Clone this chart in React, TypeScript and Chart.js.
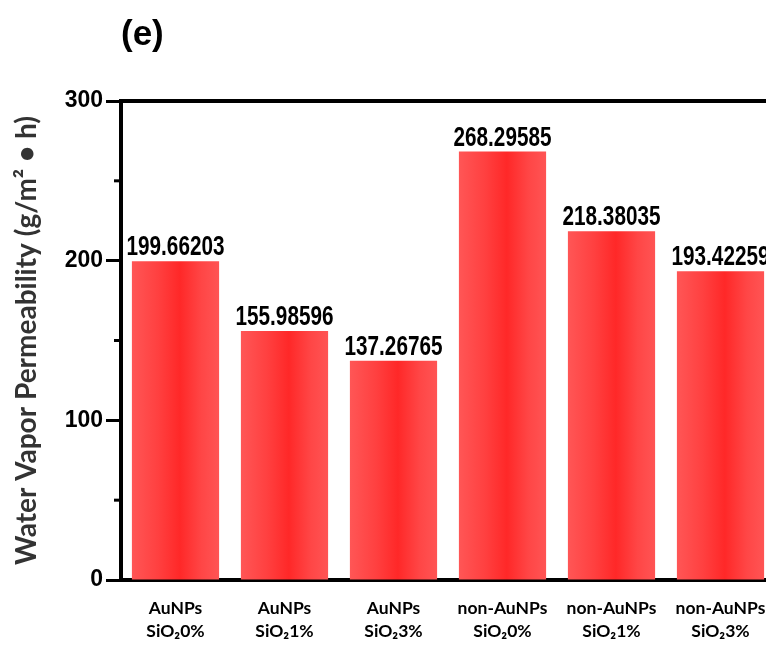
import { useEffect, useRef } from 'react';
import { Chart, registerables } from 'chart.js';

Chart.register(...registerables);

// Sample groups (two-line tick labels)
const categories: string[][] = [
  ['AuNPs', 'SiO₂0%'],
  ['AuNPs', 'SiO₂1%'],
  ['AuNPs', 'SiO₂3%'],
  ['non-AuNPs', 'SiO₂0%'],
  ['non-AuNPs', 'SiO₂1%'],
  ['non-AuNPs', 'SiO₂3%'],
];

// Water vapor permeability, g/(m²·h)
const permeability: number[] = [199.66203, 155.98596, 137.26765, 268.29585, 218.38035, 193.42259];

const yMax = 300;
const yStep = 100;
const minorTicks: number[] = [50, 150, 250];
const panelLabel = '(e)';
const yTitle = 'Water Vapor Permeability (g/m² • h)';

const BAR_FRACTION = 0.8;
const HUMANIST = 'Lato, "Open Sans", sans-serif';

// Bold condensed value labels above each bar
const valueLabels = {
  id: 'valueLabels',
  afterDatasetsDraw(chart: any) {
    const ctx = chart.ctx;
    const meta = chart.getDatasetMeta(0);
    ctx.save();
    ctx.fillStyle = '#000';
    ctx.font = 'bold 28px "Liberation Sans", Arial, sans-serif';
    ctx.textAlign = 'center';
    ctx.textBaseline = 'alphabetic';
    meta.data.forEach((bar: any, i: number) => {
      const txt = permeability[i].toFixed(5);
      ctx.save();
      ctx.translate(bar.x, bar.y - 6);
      ctx.scale(0.74, 1);
      ctx.fillText(txt, 0, 0);
      ctx.restore();
    });
    ctx.restore();
  },
};

// Short minor ticks and the panel letter
const decorations = {
  id: 'decorations',
  afterDraw(chart: any) {
    const ctx = chart.ctx;
    const y = chart.scales.y;
    const left = chart.chartArea.left;
    ctx.save();
    ctx.strokeStyle = '#000';
    ctx.lineWidth = 3;
    minorTicks.forEach((v) => {
      const py = y.getPixelForValue(v);
      ctx.beginPath();
      ctx.moveTo(left - 7, py);
      ctx.lineTo(left, py);
      ctx.stroke();
    });
    ctx.fillStyle = '#000';
    ctx.font = 'bold 35px "Liberation Sans", Arial, sans-serif';
    ctx.textAlign = 'left';
    ctx.textBaseline = 'alphabetic';
    ctx.fillText(panelLabel, 121, 45);
    ctx.restore();
  },
};

function barFill(c: any) {
  const chart = c.chart;
  const xs = chart.scales?.x;
  if (!xs || c.type !== 'data' || !isFinite(xs.width)) return '#ff3a3a';
  const center = xs.getPixelForValue(c.dataIndex);
  const w = (xs.width / categories.length) * BAR_FRACTION;
  const g = chart.ctx.createLinearGradient(center - w / 2, 0, center + w / 2, 0);
  g.addColorStop(0, '#ff5656');
  g.addColorStop(0.3, '#ff4040');
  g.addColorStop(0.55, '#ff2828');
  g.addColorStop(0.8, '#ff4646');
  g.addColorStop(1, '#ff5454');
  return g;
}

export default function App() {
  const canvasRef = useRef<HTMLCanvasElement | null>(null);

  useEffect(() => {
    if (!canvasRef.current) return;
    const chart = new Chart(canvasRef.current, {
      type: 'bar',
      data: {
        labels: categories,
        datasets: [
          {
            data: permeability,
            backgroundColor: barFill,
            borderWidth: 0,
            categoryPercentage: 1,
            barPercentage: BAR_FRACTION,
          },
        ],
      },
      options: {
        responsive: false,
        animation: false,
        layout: { padding: { top: 101, right: 15, bottom: 0, left: 0 } },
        plugins: { legend: { display: false }, tooltip: { enabled: false }, title: { display: false } },
        scales: {
          x: {
            position: 'bottom',
            grid: { display: false, drawTicks: false },
            border: { display: true, color: '#000', width: 4 },
            ticks: {
              color: '#000',
              padding: 17,
              maxRotation: 0,
              autoSkip: false,
              font: { family: HUMANIST, size: 17.5, weight: 'bold', lineHeight: 1.3 },
            },
            afterFit: (s: any) => { s.height = 68; },
          },
          x2: {
            position: 'top',
            grid: { display: false, drawTicks: false },
            border: { display: true, color: '#000', width: 4 },
            ticks: { display: false },
            afterFit: (s: any) => { s.height = 0; },
          },
          y: {
            position: 'left',
            min: 0,
            max: yMax,
            ticks: {
              stepSize: yStep,
              color: '#000',
              padding: 3,
              font: { family: '"Liberation Sans", Arial, sans-serif', size: 23, weight: 'bold' },
            },
            grid: { display: true, drawOnChartArea: false, tickLength: 15, tickWidth: 3, tickColor: '#000' },
            border: { display: true, color: '#000', width: 4 },
            title: {
              display: true,
              text: yTitle,
              color: '#333',
              padding: { top: 10, bottom: 0 },
              font: { family: HUMANIST, size: 28, weight: 'bold' },
            },
            afterFit: (s: any) => { s.width = 121; },
          },
          y2: {
            position: 'right',
            min: 0,
            max: yMax,
            grid: { display: false, drawTicks: false },
            border: { display: true, color: '#000', width: 4 },
            ticks: { display: false },
            afterFit: (s: any) => { s.width = 0; },
          },
        },
      } as any,
      plugins: [valueLabels, decorations],
    });
    return () => chart.destroy();
  }, []);

  return (
    <div style={{ position: 'relative', width: 774, height: 648, overflow: 'hidden', margin: -8, background: '#fff' }}>
      <canvas ref={canvasRef} width={790} height={648} style={{ position: 'absolute', left: 0, top: 0 }} />
    </div>
  );
}
